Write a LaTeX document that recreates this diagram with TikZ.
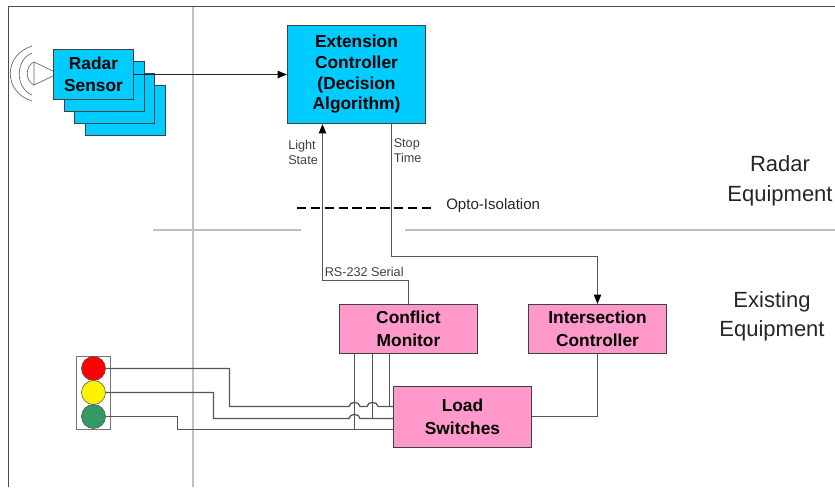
\documentclass[tikz,border=0pt]{standalone}
\usepackage{fontspec}
\setmainfont{Liberation Sans}
\definecolor{cy}{RGB}{0,204,255}
\definecolor{pk}{RGB}{255,153,204}
\definecolor{wire}{RGB}{85,85,85}
\definecolor{rule}{RGB}{192,192,192}
\definecolor{grn}{RGB}{51,153,102}
\usetikzlibrary{arrows.meta}
\tikzset{
  px/.style={x=0.75pt,y=-0.75pt},
  cybox/.style={draw=black!75,line width=0.85pt,fill=cy,minimum width=60pt,minimum height=37.5pt,inner sep=0pt,align=center,font=\bfseries\fontsize{13}{16.5}\selectfont},
  pkbox/.style={draw=black!75,line width=0.85pt,fill=pk,minimum width=103.5pt,inner sep=0pt,align=center,font=\bfseries\fontsize{13}{17}\selectfont},
  wr/.style={draw=wire,line width=0.95pt},
  head/.style={-{Triangle[length=7pt,width=5.5pt,black]}},
  lamp/.style={circle,draw=black!70,line width=0.4pt,minimum size=18pt,inner sep=0pt},
  small/.style={font=\fontsize{9.5}{11.3}\selectfont,text=black!75,align=left,inner sep=0pt},
  big/.style={font=\fontsize{16.5}{22.2}\selectfont,text=black!85,align=center,inner sep=0pt},
  rl/.style={draw=rule,line width=1.2pt}
}
\begin{document}
\begin{tikzpicture}[px]
\useasboundingbox (0,0) rectangle (835,487);
% frame
\draw[draw=black!70,line width=0.85pt] (8.5,487) -- (8.5,6.5) -- (835,6.5);
% region rules
\draw[rl] (193,6.5) -- (193,487);
\draw[rl] (153,230) -- (301,230);
\draw[rl] (405,230) -- (835,230);
% antenna
\draw[draw=black!60,line width=0.5pt] (53,71) -- (34,62) -- (34,85) -- (53,76);
\draw[draw=black!60,line width=0.5pt] (34,62) .. controls (25,66) and (25,81) .. (34,85);
\draw[draw=black!60,line width=0.5pt] (32,53) .. controls (15,60) and (15,88) .. (32,95);
\draw[draw=black!60,line width=0.5pt] (32,46) .. controls (3,55) and (3,92) .. (32,101);
% radar stack
\node[cybox] (s4) at (125.5,110.5) {};
\node[cybox] (s3) at (114.5,98.5) {};
\node[cybox] (s2) at (104.5,86.5) {};
\node[cybox] (radar) at (93.5,74.5) {Radar\\Sensor};
% main boxes
\node[cybox,minimum width=103.5pt,minimum height=73.5pt,font=\bfseries\fontsize{13}{15.5}\selectfont] (ext) at (356.5,74.5) {Extension\\Controller\\(Decision\\Algorithm)};
\node[pkbox,minimum height=36.75pt] (cm) at (408.5,329) {Conflict\\Monitor};
\node[pkbox,minimum height=36.75pt] (ic) at (597.5,329) {Intersection\\Controller};
\node[pkbox,minimum height=45.75pt] (ls) at (462.5,417) {Load\\Switches};
% traffic light
\node[draw=black!55,line width=0.85pt,minimum width=25.5pt,minimum height=54.75pt,inner sep=0pt] (tl) at (93.5,393) {};
\node[lamp,fill=red] (lr) at (93.5,368.5) {};
\node[lamp,fill=yellow] (ly) at (93.5,392.5) {};
\node[lamp,fill=grn] (lg) at (93.5,416.5) {};
% top connectors
\draw[wr,draw=black!85,head] (radar.east) -- (ext.west |- radar.east);
\draw[wr,head] (cm.north) -- (408.5,280.5) -- (322.5,280.5) -- (ext.south -| 322.5,0);
\draw[wr,head] (ext.south -| 391.5,0) -- (391.5,256.5) -- (597.5,256.5) -- (ic.north);
\draw[wr] (ic.south) -- (597.5,416.5) -- (ls.east |- 0,416.5);
% opto
\coordinate (optoL) at (297,208);
\coordinate (optoR) at (434,208);
\draw[draw=black,line width=1.5pt,dash pattern=on 7pt off 3.4pt] (optoL) -- (optoR);
% traffic light wires
\draw[wr] (lr.east) -- (229.5,368.5) -- (229.5,406.5) -- (349,406.5)
  .. controls (349.5,401) and (359.5,401) .. (360,406.5) -- (367,406.5)
  .. controls (367.5,401) and (377.5,401) .. (378,406.5) -- (ls.west |- 0,406.5);
\draw[wr] (ly.east) -- (213.5,392.5) -- (213.5,418.5) -- (349,418.5)
  .. controls (349.5,413) and (359.5,413) .. (360,418.5) -- (ls.west |- 0,418.5);
\draw[wr] (lg.east) -- (177.5,416.5) -- (177.5,429.5) -- (ls.west |- 0,429.5);
% monitor taps
\draw[wr] (cm.south -| 354.5,0) -- (354.5,429.5);
\draw[wr] (cm.south -| 372.5,0) -- (372.5,418.5);
\draw[wr] (cm.south -| 389.5,0) -- (389.5,406.5);
% labels
\node[small,anchor=west] (lt) at (288,152.5) {Light\\State};
\node[small,anchor=west] (st) at (393.5,150.5) {Stop\\Time};
\node[small,anchor=west] (rs) at (324.5,272) {RS-232 Serial};
\node[font=\fontsize{11.3}{13}\selectfont,text=black!85,anchor=west,inner sep=0pt] (op) at (446,205.5) {Opto-Isolation};
\node[big] (re) at (780,181) {Radar\\Equipment};
\node[big] (ee) at (772,316.5) {Existing\\Equipment};
\end{tikzpicture}
\end{document}
